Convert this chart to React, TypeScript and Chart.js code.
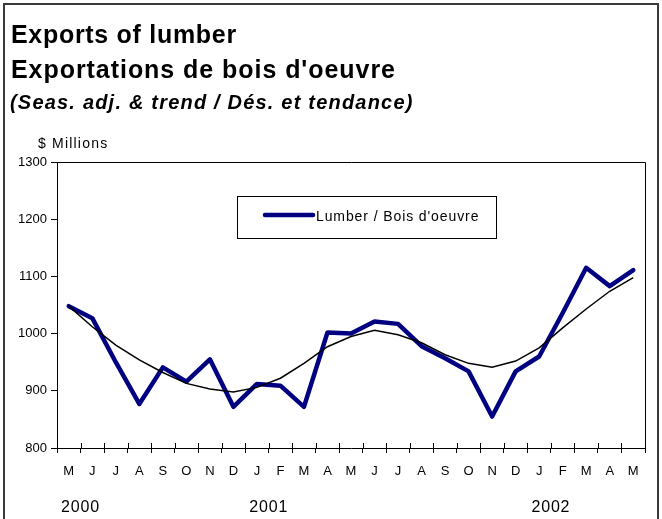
import React, { useEffect, useRef } from 'react';
import { Chart, registerables } from 'chart.js';

Chart.register(...registerables);

const FONT = '"Liberation Sans", Arial, Helvetica, sans-serif';

const titleLines = ['Exports of lumber', "Exportations de bois d'oeuvre"];
const subtitle = '(Seas. adj. & trend / Dés. et tendance)';
const unitLabel = '$ Millions';

const months = ['M', 'J', 'J', 'A', 'S', 'O', 'N', 'D', 'J', 'F', 'M', 'A', 'M', 'J', 'J', 'A', 'S', 'O', 'N', 'D', 'J', 'F', 'M', 'A', 'M'];
const years = ['2000', '2001', '2002'];
const yearStartIndex = [0, 8, 20];

const lumberLabel = "Lumber / Bois d'oeuvre";
const lumber = [1048, 1027, 950, 877, 941, 916, 955, 872, 912, 909, 872, 1002, 1000, 1021, 1017, 978, 957, 934, 855, 934, 960, 1036, 1115, 1083, 1111];
const trendLabel = 'Trend / Tendance';
const trend = [1048, 1012, 980, 954, 932, 913, 903, 898, 906, 922, 948, 977, 995, 1006, 998, 984, 963, 948, 941, 952, 975, 1010, 1043, 1074, 1098];

const yMin = 800;
const yMax = 1300;
const yStep = 100;

const decor = {
  id: 'decor',
  beforeDraw(chart: any) {
    const { ctx } = chart;
    ctx.save();
    ctx.fillStyle = '#ffffff';
    ctx.fillRect(0, 0, chart.width, chart.height);
    ctx.strokeStyle = '#3a3a3a';
    ctx.lineWidth = 2;
    ctx.beginPath();
    ctx.moveTo(4, chart.height);
    ctx.lineTo(4, 4);
    ctx.lineTo(658, 4);
    ctx.lineTo(658, chart.height);
    ctx.stroke();
    ctx.restore();
  },
  afterDraw(chart: any) {
    const { ctx, chartArea: a, scales } = chart;
    const xs = scales.x;
    ctx.save();
    // plot area top / right border
    ctx.strokeStyle = '#000';
    ctx.lineWidth = 1;
    ctx.beginPath();
    ctx.moveTo(a.left, Math.round(a.top) + 0.5);
    ctx.lineTo(Math.round(a.right) + 0.5, Math.round(a.top) + 0.5);
    ctx.lineTo(Math.round(a.right) + 0.5, a.bottom);
    ctx.stroke();
    // inner half of crossing x ticks
    const n = xs.ticks.length;
    const step = (a.right - a.left) / n;
    ctx.beginPath();
    for (let i = 0; i <= n; i++) {
      const px = Math.round(a.left + i * step) + 0.5;
      ctx.moveTo(px, a.bottom - 5);
      ctx.lineTo(px, a.bottom);
    }
    ctx.stroke();

    // legend box
    const ds = chart.data.datasets.find((d: any) => d.showInLegend);
    const bx = 237.5, by = 196.5, bw = 259, bh = 42;
    ctx.fillStyle = '#fff';
    ctx.fillRect(bx, by, bw, bh);
    ctx.strokeStyle = '#000';
    ctx.lineWidth = 1;
    ctx.strokeRect(bx, by, bw, bh);
    ctx.strokeStyle = ds.borderColor;
    ctx.lineWidth = ds.borderWidth;
    ctx.lineCap = 'round';
    ctx.beginPath();
    ctx.moveTo(265, 215);
    ctx.lineTo(313, 215);
    ctx.stroke();
    ctx.fillStyle = '#000';
    ctx.font = `14px ${FONT}`;
    (ctx as any).letterSpacing = '0.9px';
    ctx.textBaseline = 'alphabetic';
    ctx.textAlign = 'left';
    ctx.fillText(ds.label, 316, 221);

    // titles
    ctx.font = `bold 25px ${FONT}`;
    (ctx as any).letterSpacing = '0.7px';
    ctx.fillText(titleLines[0], 11, 43);
    (ctx as any).letterSpacing = '0.95px';
    ctx.fillText(titleLines[1], 11, 77.5);
    ctx.font = `italic bold 20px ${FONT}`;
    (ctx as any).letterSpacing = '1.2px';
    ctx.fillText(subtitle, 10, 109);

    // unit label
    ctx.font = `14px ${FONT}`;
    (ctx as any).letterSpacing = '1.2px';
    ctx.fillText(unitLabel, 38, 148);

    // year labels
    ctx.font = `16px ${FONT}`;
    (ctx as any).letterSpacing = '0.8px';
    ctx.textAlign = 'center';
    years.forEach((y, i) => {
      const px = xs.getPixelForValue(yearStartIndex[i]) + step * 0.5;
      ctx.fillText(y, px, 511.5);
    });
    ctx.restore();
  },
};

export default function App() {
  const ref = useRef<HTMLCanvasElement>(null);
  useEffect(() => {
    const canvas = ref.current!;
    const chart = new Chart(canvas, {
      type: 'line',
      data: {
        labels: months,
        datasets: [
          {
            label: trendLabel,
            data: trend,
            borderColor: '#000000',
            borderWidth: 1.5,
            pointRadius: 0,
            tension: 0,
            fill: false,
            order: 0,
          } as any,
          {
            label: lumberLabel,
            data: lumber,
            borderColor: '#000080',
            borderWidth: 4.5,
            pointRadius: 0,
            tension: 0,
            fill: false,
            borderJoinStyle: 'round',
            borderCapStyle: 'round',
            order: 1,
            showInLegend: true,
          } as any,
        ],
      },
      options: {
        responsive: false,
        animation: false,
        events: [],
        layout: { padding: { left: 0, right: 17, top: 162, bottom: 0 } },
        plugins: {
          legend: { display: false },
          tooltip: { enabled: false },
          title: { display: false },
        },
        scales: {
          x: {
            type: 'category',
            offset: true,
            grid: {
              display: true,
              drawOnChartArea: false,
              drawTicks: true,
              tickLength: 5,
              color: '#000',
              offset: true,
            },
            border: { display: true, color: '#000', width: 1 },
            ticks: {
              color: '#000',
              font: { family: FONT, size: 13 },
              padding: 11,
              maxRotation: 0,
              autoSkip: false,
            },
            afterFit: (s: any) => {
              s.height = 71;
            },
          },
          y: {
            min: yMin,
            max: yMax,
            grid: {
              drawOnChartArea: false,
              drawTicks: true,
              tickLength: 6,
              color: '#000',
            },
            border: { display: true, color: '#000', width: 1 },
            ticks: {
              stepSize: yStep,
              color: '#000',
              font: { family: FONT, size: 13 },
              padding: 4,
              callback: (v: any) => String(v),
            },
            afterFit: (s: any) => {
              s.width = 57;
            },
          },
        },
      },
      plugins: [decor],
    });
    return () => chart.destroy();
  }, []);
  return (
    <div style={{ position: 'fixed', left: 0, top: 0, width: 662, height: 519, background: '#fff' }}>
      <canvas ref={ref} width={662} height={519} style={{ display: 'block', width: 662, height: 519 }} />
    </div>
  );
}
